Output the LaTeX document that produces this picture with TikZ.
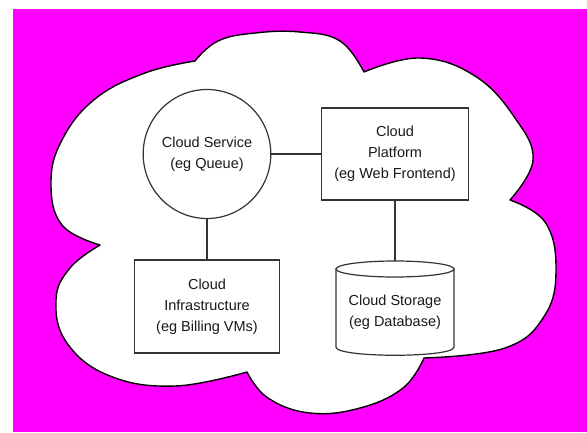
\documentclass[tikz,border=0pt]{standalone}
\usepackage{fontspec}
\setmainfont{Liberation Sans}
\usetikzlibrary{shapes.geometric}
\definecolor{bgmag}{HTML}{FF00FF}
\definecolor{linegray}{HTML}{333333}
\tikzset{
  cloudline/.style={draw=black, fill=white, line width=1.4pt, line join=round},
  boxnode/.style={draw=linegray, fill=white, line width=1.2pt, rectangle, inner sep=0pt,
    align=center, font=\fontsize{14.5}{21}\selectfont, text=black!90},
  ellnode/.style={draw=linegray, fill=white, line width=1.2pt, ellipse, inner sep=0pt,
    align=center, font=\fontsize{14.5}{21}\selectfont, text=black!90},
  textnode/.style={inner sep=0pt, align=center, font=\fontsize{14.5}{21}\selectfont, text=black!90},
  link/.style={draw=linegray, line width=1.2pt},
  cyl/.style={draw=linegray, fill=white, line width=1.2pt}
}
\begin{document}
\begin{tikzpicture}[x=1pt,y=-1pt]
\useasboundingbox (0,0) rectangle (587,432);
\fill[white] (0,0) rectangle (587,432);
\fill[bgmag] (13,9) rectangle (587,432);
% cloud
\path[cloudline]
  plot[smooth, tension=.7] coordinates {(100,245) (62,225) (51,183) (62,140) (95,99) (145,73) (195,61)}
  -- plot[smooth, tension=.7] coordinates {(195,61) (218,41) (255,33) (300,32) (340,41) (364,72)}
  -- plot[smooth, tension=.7] coordinates {(364,72) (420,58) (475,76) (515,118) (533,160) (510,200)}
  -- plot[smooth, tension=.7] coordinates {(510,200) (545,222) (556,268) (545,315) (505,348) (424,358)}
  -- plot[smooth, tension=.7] coordinates {(424,358) (403,388) (360,408) (310,413) (268,398) (247,372)}
  -- plot[smooth, tension=.7] coordinates {(247,372) (175,386) (110,376) (67,343) (56,300) (70,268) (100,245)}
  -- cycle;
% nodes
\node[ellnode, minimum width=117pt, minimum height=129pt] (cs) at (207,154) {Cloud Service\\(eg Queue)};
\node[boxnode, minimum width=147pt, minimum height=92pt] (pf) at (395,154) {Cloud\\Platform\\(eg Web Frontend)};
\node[boxnode, minimum width=145pt, minimum height=93pt] (inf) at (207,306.5) {Cloud\\Infrastructure\\(eg Billing VMs)};
% cylinder
\path[cyl] (336,269) -- (336,347) .. controls (336,358) and (454,358) .. (454,347) -- (454,269) -- cycle;
\path[cyl] (395,269) ellipse [x radius=59, y radius=8];
\coordinate (sttop) at (395,261);
\node[textnode] (st) at (395,312.5) {Cloud Storage\\(eg Database)};
% connectors
\draw[link] (cs.east) -- (pf.west);
\draw[link] (cs.south) -- (inf.north);
\draw[link] (pf.south) -- (sttop);
\end{tikzpicture}
\end{document}
